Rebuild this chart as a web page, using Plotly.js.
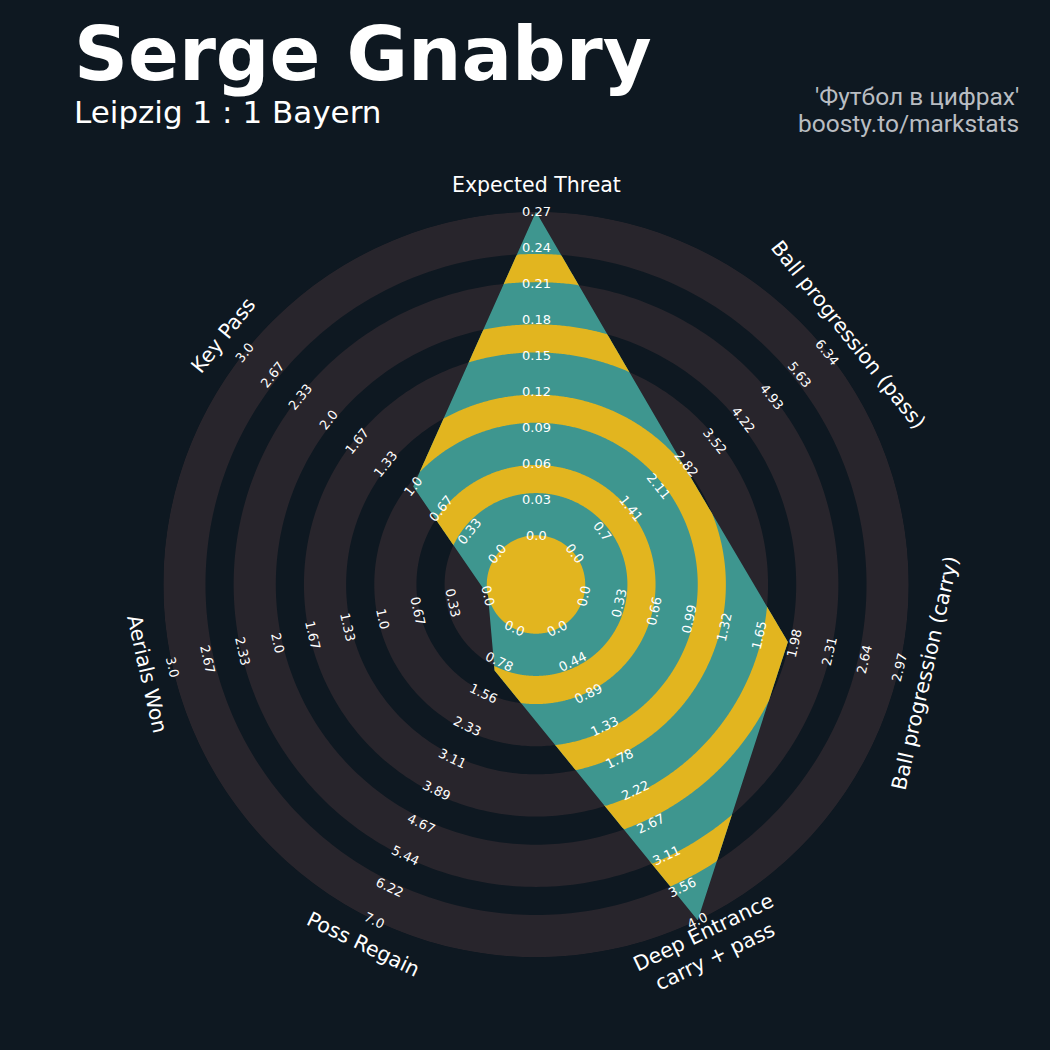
<!DOCTYPE html>
<html>
<head>
<meta charset="utf-8">
<script src="https://cdn.plot.ly/plotly-3.0.1.min.js"></script>
<style>html,body{margin:0;padding:0;background:#0e1821;}</style>
</head>
<body>
<div id="chart" style="width:1050px;height:1050px;"></div>
<script>
// ---------------- DATA ----------------
const params = ['Expected Threat', 'Ball progression (pass)', 'Ball progression (carry)',
                'Deep Entrance<br>carry + pass', 'Poss Regain', 'Aerials Won', 'Key Pass'];
const values = [0.27, 2.75, 1.92, 4.0, 1.0, 0.0, 1.0];

const ticksThreat  = ['0.0','0.03','0.06','0.09','0.12','0.15','0.18','0.21','0.24','0.27'];
const ticksPass    = ['0.0','0.7','1.41','2.11','2.82','3.52','4.22','4.93','5.63','6.34'];
const ticksCarry   = ['0.0','0.33','0.66','0.99','1.32','1.65','1.98','2.31','2.64','2.97'];
const ticksDeep    = ['0.0','0.44','0.89','1.33','1.78','2.22','2.67','3.11','3.56','4.0'];
const ticksRegain  = ['0.0','0.78','1.56','2.33','3.11','3.89','4.67','5.44','6.22','7.0'];
const ticksAerial  = ['0.0','0.33','0.67','1.0','1.33','1.67','2.0','2.33','2.67','3.0'];
const ticksKeyPass = ['0.0','0.33','0.67','1.0','1.33','1.67','2.0','2.33','2.67','3.0'];
const tickLabels = [ticksThreat, ticksPass, ticksCarry, ticksDeep, ticksRegain, ticksAerial, ticksKeyPass];

const titleText = 'Serge Gnabry';
const subtitleText = 'Leipzig 1 : 1 Bayern';
const creditLine1 = "'Футбол в цифрах'";
const creditLine2 = 'boosty.to/markstats';

// ---------------- STYLE ----------------
const BG = '#0e1821', RING = '#28252c', TEAL = '#3e968f', GOLD = '#e2b51f';
const CENTER_R = 3.5, RING_W = 3, GAP_W = 2, NUM_RINGS = 5;
const SPAN = NUM_RINGS * RING_W + (NUM_RINGS - 1) * GAP_W;
const R_MAX = CENTER_R + SPAN;
const LABEL_R = 28.4;
const DOM_X = [0.15552, 0.86543], DOM_Y = [0.08838, 0.79829];

// cartesian overlay covering the whole page with the same scale as the polar plot
const CX = (DOM_X[0] + DOM_X[1]) / 2, CY = (DOM_Y[0] + DOM_Y[1]) / 2;
const UNIT_X = (DOM_X[1] - DOM_X[0]) / (2 * R_MAX), UNIT_Y = (DOM_Y[1] - DOM_Y[0]) / (2 * R_MAX);
const X_RANGE = [-CX / UNIT_X, (1 - CX) / UNIT_X];
const Y_RANGE = [-CY / UNIT_Y, (1 - CY) / UNIT_Y];

const N = params.length;
const STEP = 360 / N;
const thetas = params.map((_, i) => i * STEP);
const mins = tickLabels.map(t => parseFloat(t[0]));
const maxs = tickLabels.map(t => parseFloat(t[t.length - 1]));
const toR = (v, i) => CENTER_R + SPAN * Math.min(Math.max((v - mins[i]) / (maxs[i] - mins[i]), 0), 1);
const rv = values.map(toR);

// polygon radius along any angle (straight edges between vertices)
function rho(t) {
  let i = Math.min(Math.floor(t / STEP), N - 1);
  const t1 = i * STEP, t2 = (i + 1) * STEP;
  const r1 = rv[i], r2 = rv[(i + 1) % N];
  const d = (t2 - t1) * Math.PI / 180, a = (t - t1) * Math.PI / 180, b = (t2 - t) * Math.PI / 180;
  return r1 * r2 * Math.sin(d) / (r1 * Math.sin(a) + r2 * Math.sin(b));
}
const angles = [];
for (let i = 0; i < N; i++) {
  for (let s = 0; s < 150; s++) angles.push(i * STEP + STEP * s / 150);
}
angles.push(360);

function annulus(r1, r2, color) {
  const th = [], r = [];
  for (let a = 0; a <= 360; a += 1) { th.push(a); r.push(r2); }
  for (let a = 360; a >= 0; a -= 1) { th.push(a); r.push(r1); }
  return {type: 'scatterpolar', r: r, theta: th, mode: 'lines', fill: 'toself',
          fillcolor: color, line: {width: 0, color: color}, hoverinfo: 'skip'};
}
function clippedBand(r1, r2, color) {
  const th = [], r = [];
  angles.forEach(a => { th.push(a); r.push(Math.min(r2, rho(a))); });
  for (let j = angles.length - 1; j >= 0; j--) { th.push(angles[j]); r.push(Math.min(r1, rho(angles[j]))); }
  return {type: 'scatterpolar', r: r, theta: th, mode: 'lines', fill: 'toself',
          fillcolor: color, line: {width: 0, color: color}, hoverinfo: 'skip'};
}

const traces = [];
for (let k = 0; k < NUM_RINGS; k++) {
  const s = CENTER_R + k * (RING_W + GAP_W);
  traces.push(annulus(s, s + RING_W, RING));
}
traces.push({type: 'scatterpolar', r: rv.concat([rv[0]]), theta: thetas.concat([thetas[0]]),
  mode: 'lines', fill: 'toself', fillcolor: TEAL, line: {width: 0, color: TEAL}, hoverinfo: 'skip'});
for (let k = 0; k < NUM_RINGS - 1; k++) {
  const s = CENTER_R + k * (RING_W + GAP_W) + RING_W;
  traces.push(clippedBand(s, s + GAP_W, GOLD));
}
traces.push(annulus(0, CENTER_R, GOLD));
traces.push({type: 'scatter', x: [], y: [], xaxis: 'x', yaxis: 'y', hoverinfo: 'skip', showlegend: false});

// ---------------- LABELS ----------------
function textAngle(t) {
  if (t > 90 && t < 270) return t - 180;
  if (t >= 270) return t - 360;
  return t;
}
const annotations = [];
tickLabels.forEach((labs, i) => {
  const t = thetas[i], rad = t * Math.PI / 180;
  labs.forEach((lab, k) => {
    const rr = CENTER_R + SPAN * k / (labs.length - 1);
    annotations.push({xref: 'x', yref: 'y', x: rr * Math.sin(rad), y: rr * Math.cos(rad),
      text: lab, showarrow: false, xanchor: 'center', yanchor: 'middle',
      textangle: textAngle(t), font: {family: 'DejaVu Sans', size: 13, color: '#ffffff'}});
  });
  annotations.push({xref: 'x', yref: 'y', x: LABEL_R * Math.sin(rad), y: LABEL_R * Math.cos(rad),
    text: params[i], showarrow: false, xanchor: 'center', yanchor: 'middle', align: 'center',
    textangle: textAngle(t), font: {family: 'DejaVu Sans', size: 20.5, color: '#ffffff'}});
});
annotations.push({xref: 'paper', yref: 'paper', x: 72 / 1050, y: 1 - 54 / 1050, xanchor: 'left', yanchor: 'middle',
  text: '<b>' + titleText + '</b>', showarrow: false, font: {family: 'DejaVu Sans', size: 75, color: '#ffffff'}});
annotations.push({xref: 'paper', yref: 'paper', x: 72 / 1050, y: 1 - 112 / 1050, xanchor: 'left', yanchor: 'middle',
  text: subtitleText, showarrow: false, font: {family: 'DejaVu Sans', size: 31, color: '#ffffff'}});
annotations.push({xref: 'paper', yref: 'paper', x: 1021 / 1050, y: 1 - 96.5 / 1050, xanchor: 'right', yanchor: 'middle',
  text: creditLine1, showarrow: false, font: {family: 'Roboto', size: 24.5, color: '#b9bdc2'}});
annotations.push({xref: 'paper', yref: 'paper', x: 1021 / 1050, y: 1 - 123.5 / 1050, xanchor: 'right', yanchor: 'middle',
  text: creditLine2, showarrow: false, font: {family: 'Roboto', size: 24.5, color: '#b9bdc2'}});

const layout = {
  width: 1050, height: 1050, margin: {l: 0, r: 0, t: 0, b: 0},
  paper_bgcolor: BG, plot_bgcolor: 'rgba(0,0,0,0)', showlegend: false, hovermode: false,
  polar: {
    domain: {x: DOM_X, y: DOM_Y}, bgcolor: 'rgba(0,0,0,0)',
    radialaxis: {range: [0, R_MAX], visible: false},
    angularaxis: {rotation: 90, direction: 'clockwise', visible: false}
  },
  xaxis: {domain: [0, 1], range: X_RANGE, visible: false, fixedrange: true},
  yaxis: {domain: [0, 1], range: Y_RANGE, visible: false, fixedrange: true},
  annotations: annotations
};
Plotly.newPlot('chart', traces, layout, {displayModeBar: false, staticPlot: true});
</script>
</body>
</html>
